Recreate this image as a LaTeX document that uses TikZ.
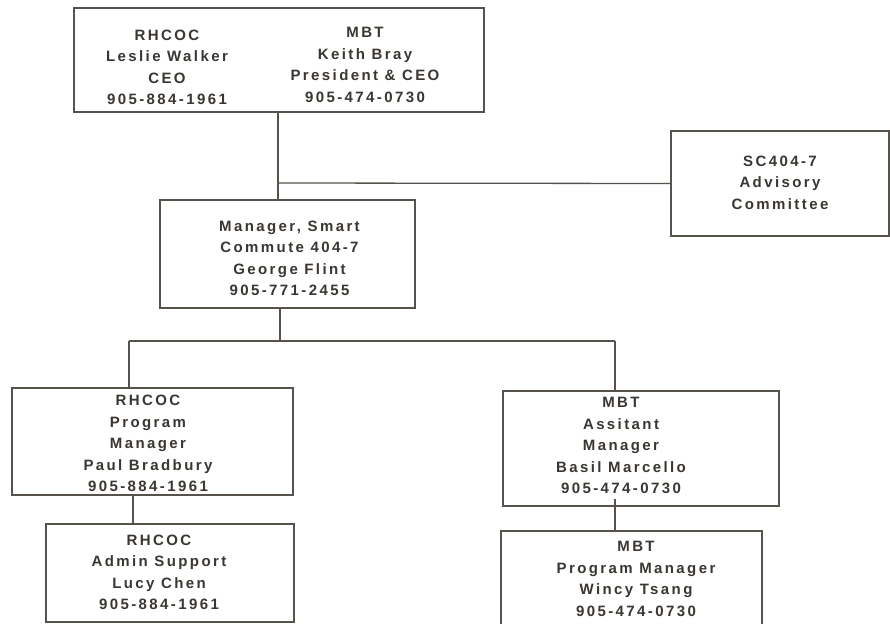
\documentclass[tikz,border=0pt]{standalone}
\usepackage{fontspec}
\newfontfamily\orgfont{Liberation Sans}[LetterSpace=16]
\definecolor{linec}{HTML}{57524C}
\definecolor{textc}{HTML}{3A3631}
\begin{document}
\begin{tikzpicture}[x=1pt,y=-1pt,
  box/.style={draw=linec, line width=1.3pt, inner sep=0pt, rectangle},
  txt/.style={font=\orgfont\bfseries\fontsize{15}{21.5}\selectfont, text=textc, align=center, inner sep=0pt},
  conn/.style={draw=linec, line width=1.3pt}]
\useasboundingbox[fill=white] (0,0) rectangle (890,623);

% boxes
\node[box, minimum width=410pt, minimum height=104pt] (top) at (279,60) {};
\node[box, minimum width=218pt, minimum height=105pt] (sc) at (780,183.5) {};
\node[box, minimum width=255pt, minimum height=108pt] (mgr) at (287.5,254) {};
\node[box, minimum width=281pt, minimum height=107pt] (pm) at (152.5,441.5) {};
\node[box, minimum width=276pt, minimum height=115pt] (am) at (641,448.5) {};
\node[box, minimum width=248pt, minimum height=98pt] (adm) at (170,573) {};
\node[box, minimum width=261pt, minimum height=99pt] (mpm) at (631.5,580.5) {};

% texts
\node[txt] (topL) at (167,67.5) {RHCOC\\Leslie Walker\\CEO\\905-884-1961};
\node[txt] (topR) at (365,65) {MBT\\Keith Bray\\President \& CEO\\905-474-0730};
\node[txt] (scT) at (780,182.5) {SC404-7\\Advisory\\Committee};
\node[txt] (mgrT) at (289.5,258.5) {Manager, Smart\\Commute 404-7\\George Flint\\905-771-2455};
\node[txt] (pmT) at (148,443.5) {RHCOC\\Program\\Manager\\Paul Bradbury\\905-884-1961};
\node[txt] (amT) at (621,445.5) {MBT\\Assitant\\Manager\\Basil Marcello\\905-474-0730};
\node[txt] (admT) at (159,572.5) {RHCOC\\Admin Support\\Lucy Chen\\905-884-1961};
\node[txt] (mpmT) at (636,579) {MBT\\Program Manager\\Wincy Tsang\\905-474-0730};

% junction coordinates
\coordinate (j0) at (278,183);
\coordinate (jm) at (280,341);
\coordinate (busL) at (129,341);
\coordinate (busR) at (615,341);
\coordinate (jl) at (133,0);

% connectors
\draw[conn] (j0 |- top.south) -- (j0 |- mgr.north);
\draw[conn] (j0) -- (sc.west);
\draw[conn] (jm |- mgr.south) -- (jm);
\draw[conn] (busL) -- (busR);
\draw[conn] (busL) -- (busL |- pm.north);
\draw[conn] (busR) -- (busR |- am.north);
\draw[conn] (jl |- pm.south) -- (jl |- adm.north);
\draw[conn] ([yshift=8pt]busR |- am.south) -- (busR |- mpm.north);
\end{tikzpicture}
\end{document}
